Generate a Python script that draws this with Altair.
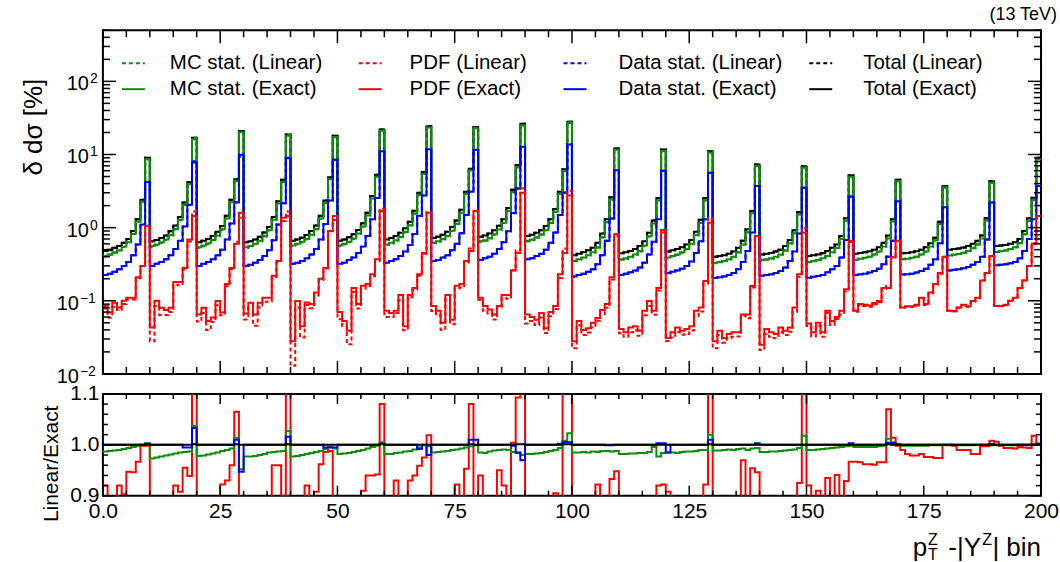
import altair as alt
import pandas as pd

FONT = "Liberation Sans"
GREEN = "#0b8f0b"
RED = "#ff0000"
BLUE = "#0000ff"
BLACK = "#000000"

# ---------------- data: 200 bins (20 |Y| groups x 10 pT bins) ----------------
total_exact = [
    0.48, 0.50, 0.53, 0.56, 0.62, 0.70, 0.90, 1.30, 2.40, 9.0,
    0.65, 0.68, 0.72, 0.78, 0.89, 1.07, 1.40, 2.20, 4.2, 16.9,
    0.63, 0.66, 0.70, 0.77, 0.88, 1.05, 1.45, 2.40, 4.6, 20.9,
    0.63, 0.65, 0.69, 0.75, 0.86, 1.02, 1.40, 2.30, 4.5, 18.8,
    0.66, 0.69, 0.73, 0.79, 0.90, 1.07, 1.45, 2.35, 4.9, 18.0,
    0.66, 0.69, 0.74, 0.81, 0.93, 1.15, 1.60, 2.70, 5.3, 22.0,
    0.69, 0.72, 0.77, 0.85, 0.98, 1.20, 1.70, 3.00, 5.75, 24.4,
    0.72, 0.75, 0.80, 0.88, 1.02, 1.25, 1.75, 3.10, 6.4, 23.7,
    0.75, 0.78, 0.83, 0.92, 1.06, 1.30, 1.85, 3.30, 7.2, 26.3,
    0.77, 0.80, 0.85, 0.92, 1.05, 1.30, 1.80, 3.10, 6.3, 28.0,
    0.42, 0.44, 0.46, 0.49, 0.53, 0.62, 0.83, 1.30, 2.6, 12.1,
    0.445, 0.46, 0.48, 0.51, 0.56, 0.65, 0.85, 1.25, 2.55, 11.7,
    0.47, 0.49, 0.51, 0.54, 0.59, 0.68, 0.88, 1.28, 2.55, 11.1,
    0.40, 0.41, 0.42, 0.44, 0.47, 0.53, 0.66, 0.95, 1.69, 7.3,
    0.43, 0.44, 0.45, 0.47, 0.50, 0.56, 0.68, 0.92, 1.63, 6.9,
    0.41, 0.42, 0.43, 0.445, 0.48, 0.53, 0.59, 0.77, 1.34, 5.2,
    0.44, 0.45, 0.46, 0.475, 0.50, 0.54, 0.62, 0.78, 1.30, 4.5,
    0.445, 0.45, 0.46, 0.475, 0.50, 0.54, 0.61, 0.73, 1.20, 3.7,
    0.50, 0.51, 0.52, 0.535, 0.56, 0.60, 0.66, 0.78, 1.34, 4.3,
    0.56, 0.57, 0.58, 0.60, 0.63, 0.70, 0.90, 1.34, 2.56, 9.0,
]
mc_exact = [
    0.41, 0.43, 0.46, 0.49, 0.55, 0.63, 0.82, 1.21, 2.26, 8.6,
    0.56, 0.59, 0.63, 0.69, 0.79, 0.96, 1.28, 2.05, 3.95, 16.2,
    0.54, 0.57, 0.61, 0.68, 0.78, 0.95, 1.33, 2.23, 4.32, 20.1,
    0.54, 0.56, 0.60, 0.66, 0.77, 0.92, 1.28, 2.14, 4.23, 18.0,
    0.57, 0.60, 0.64, 0.70, 0.80, 0.96, 1.33, 2.19, 4.61, 17.3,
    0.57, 0.60, 0.64, 0.71, 0.83, 1.04, 1.46, 2.51, 4.98, 21.1,
    0.59, 0.62, 0.67, 0.75, 0.87, 1.08, 1.56, 2.79, 5.41, 23.4,
    0.62, 0.65, 0.70, 0.77, 0.91, 1.13, 1.60, 2.88, 6.02, 22.8,
    0.65, 0.67, 0.72, 0.81, 0.94, 1.17, 1.69, 3.07, 6.77, 25.2,
    0.66, 0.69, 0.74, 0.81, 0.93, 1.17, 1.65, 2.88, 5.92, 26.9,
    0.35, 0.37, 0.39, 0.42, 0.46, 0.54, 0.74, 1.19, 2.42, 11.6,
    0.37, 0.38, 0.40, 0.43, 0.48, 0.57, 0.76, 1.14, 2.37, 11.2,
    0.39, 0.41, 0.43, 0.46, 0.51, 0.60, 0.79, 1.17, 2.37, 10.6,
    0.33, 0.34, 0.35, 0.37, 0.40, 0.46, 0.59, 0.87, 1.57, 7.0,
    0.36, 0.37, 0.38, 0.40, 0.43, 0.49, 0.61, 0.84, 1.52, 6.6,
    0.34, 0.35, 0.36, 0.38, 0.41, 0.46, 0.53, 0.70, 1.25, 4.97,
    0.365, 0.376, 0.386, 0.40, 0.43, 0.47, 0.55, 0.71, 1.21, 4.3,
    0.37, 0.376, 0.386, 0.40, 0.43, 0.47, 0.55, 0.67, 1.12, 3.53,
    0.415, 0.426, 0.437, 0.455, 0.48, 0.525, 0.59, 0.71, 1.25, 4.1,
    0.465, 0.476, 0.487, 0.51, 0.54, 0.61, 0.81, 1.23, 2.38, 8.6,
]
data_exact = [
    0.225, 0.235, 0.25, 0.27, 0.30, 0.34, 0.42, 0.59, 1.10, 4.2,
    0.30, 0.32, 0.34, 0.37, 0.42, 0.51, 0.66, 1.04, 2.05, 7.8,
    0.30, 0.32, 0.34, 0.37, 0.42, 0.50, 0.69, 1.14, 2.2, 9.9,
    0.30, 0.31, 0.33, 0.36, 0.41, 0.49, 0.67, 1.10, 2.15, 8.9,
    0.32, 0.33, 0.35, 0.38, 0.43, 0.51, 0.69, 1.12, 2.35, 8.5,
    0.32, 0.33, 0.36, 0.39, 0.45, 0.55, 0.77, 1.30, 2.55, 11.1,
    0.33, 0.35, 0.37, 0.41, 0.47, 0.58, 0.82, 1.45, 2.75, 11.8,
    0.35, 0.36, 0.39, 0.42, 0.49, 0.60, 0.84, 1.49, 3.1, 11.5,
    0.36, 0.38, 0.40, 0.44, 0.51, 0.63, 0.89, 1.58, 3.45, 12.8,
    0.37, 0.38, 0.41, 0.44, 0.50, 0.62, 0.86, 1.49, 3.0, 13.7,
    0.214, 0.225, 0.235, 0.25, 0.27, 0.315, 0.42, 0.66, 1.33, 6.1,
    0.225, 0.235, 0.245, 0.26, 0.285, 0.33, 0.43, 0.64, 1.30, 6.0,
    0.24, 0.25, 0.26, 0.275, 0.30, 0.345, 0.45, 0.65, 1.30, 5.6,
    0.205, 0.21, 0.215, 0.225, 0.24, 0.27, 0.34, 0.48, 0.86, 3.7,
    0.22, 0.225, 0.23, 0.24, 0.255, 0.285, 0.35, 0.47, 0.83, 3.5,
    0.207, 0.213, 0.218, 0.226, 0.245, 0.27, 0.30, 0.39, 0.68, 2.65,
    0.225, 0.23, 0.235, 0.243, 0.255, 0.275, 0.315, 0.40, 0.66, 2.3,
    0.228, 0.23, 0.235, 0.243, 0.255, 0.275, 0.31, 0.37, 0.61, 1.9,
    0.26, 0.265, 0.27, 0.278, 0.29, 0.31, 0.34, 0.40, 0.69, 2.2,
    0.305, 0.31, 0.315, 0.325, 0.34, 0.38, 0.48, 0.70, 1.30, 3.7,
]
pdf_exact = [
    0.085, 0.069, 0.094, 0.081, 0.10, 0.11, 0.11, 0.21, 0.30, 1.05,
    0.043, 0.10, 0.08, 0.075, 0.08, 0.18, 0.18, 0.28, 0.69, 1.44,
    0.065, 0.08, 0.053, 0.059, 0.099, 0.069, 0.17, 0.28, 0.60, 1.6,
    0.067, 0.094, 0.065, 0.094, 0.11, 0.11, 0.22, 0.35, 1.37, 1.44,
    0.028, 0.099, 0.045, 0.095, 0.09, 0.13, 0.20, 0.28, 0.90, 1.44,
    0.07, 0.053, 0.039, 0.15, 0.09, 0.16, 0.17, 0.23, 0.37, 1.69,
    0.073, 0.068, 0.073, 0.12, 0.045, 0.12, 0.15, 0.23, 0.45, 1.6,
    0.085, 0.073, 0.05, 0.12, 0.055, 0.16, 0.17, 0.35, 0.48, 1.69,
    0.11, 0.085, 0.076, 0.065, 0.085, 0.12, 0.12, 0.26, 0.45, 3.0,
    0.065, 0.06, 0.055, 0.068, 0.042, 0.07, 0.085, 0.23, 0.45, 2.75,
    0.028, 0.053, 0.04, 0.042, 0.05, 0.058, 0.075, 0.09, 0.21, 0.81,
    0.041, 0.037, 0.043, 0.045, 0.039, 0.073, 0.099, 0.073, 0.15, 0.93,
    0.031, 0.037, 0.043, 0.039, 0.041, 0.045, 0.073, 0.081, 0.186, 1.17,
    0.028, 0.039, 0.031, 0.035, 0.037, 0.037, 0.065, 0.065, 0.159, 0.77,
    0.025, 0.041, 0.037, 0.035, 0.043, 0.039, 0.043, 0.081, 0.23, 0.85,
    0.049, 0.037, 0.05, 0.037, 0.073, 0.053, 0.06, 0.073, 0.144, 0.66,
    0.073, 0.09, 0.088, 0.086, 0.093, 0.099, 0.15, 0.15, 0.39, 0.66,
    0.081, 0.084, 0.084, 0.088, 0.11, 0.09, 0.13, 0.17, 0.24, 0.40,
    0.073, 0.072, 0.081, 0.088, 0.084, 0.099, 0.11, 0.19, 0.24, 0.41,
    0.085, 0.085, 0.088, 0.10, 0.11, 0.15, 0.19, 0.30, 0.60, 1.44,
]
# Linear / Exact ratios (lower panel)
total_ratio = [
    1.000, 1.000, 1.000, 1.000, 1.000, 1.000, 1.000, 1.000, 1.000, 1.001,
    1.000, 1.000, 1.000, 1.000, 1.000, 1.000, 1.000, 1.000, 1.000, 1.001,
    1.000, 1.000, 1.000, 1.000, 1.000, 1.000, 1.000, 1.000, 1.001, 1.000,
    1.000, 1.000, 1.000, 1.000, 1.000, 1.000, 1.000, 1.000, 1.000, 1.001,
    1.000, 1.000, 1.000, 1.000, 1.000, 1.000, 1.000, 1.000, 1.000, 1.000,
    1.000, 1.000, 1.000, 1.000, 1.000, 1.000, 1.000, 1.000, 1.000, 1.001,
    1.000, 1.000, 1.000, 1.000, 1.000, 1.000, 1.000, 1.000, 1.000, 1.000,
    1.000, 1.000, 1.000, 1.000, 1.000, 1.000, 1.000, 1.000, 1.001, 1.000,
    1.000, 1.000, 1.000, 1.000, 1.000, 1.000, 1.000, 1.000, 1.001, 1.001,
    1.000, 1.000, 1.000, 1.000, 1.000, 1.000, 1.000, 1.000, 1.001, 1.001,
    1.000, 1.000, 1.000, 1.000, 1.000, 1.000, 1.000, 1.000, 1.000, 1.000,
    1.000, 1.000, 1.000, 1.000, 1.000, 1.000, 1.000, 1.000, 1.000, 1.000,
    1.000, 1.000, 1.000, 1.000, 1.000, 1.000, 1.000, 1.000, 1.000, 1.001,
    1.000, 1.000, 1.000, 1.000, 1.000, 1.000, 1.000, 1.000, 1.000, 1.000,
    1.000, 1.000, 1.000, 1.000, 1.000, 1.000, 1.000, 1.000, 1.000, 1.000,
    1.000, 1.000, 1.000, 1.000, 1.000, 1.000, 1.000, 1.000, 1.000, 1.000,
    1.000, 1.000, 1.000, 1.000, 1.000, 1.000, 1.000, 1.001, 1.000, 1.000,
    1.000, 1.000, 1.000, 1.000, 1.000, 1.000, 1.000, 1.000, 1.000, 1.000,
    1.000, 1.000, 1.000, 1.000, 1.000, 1.000, 1.000, 1.000, 1.000, 1.000,
    1.000, 1.000, 1.000, 1.000, 1.000, 1.000, 1.000, 1.000, 1.000, 1.000,
]
mc_ratio = [
    0.987, 0.988, 0.989, 0.990, 0.992, 0.994, 0.996, 0.998, 1.000, 1.003,
    0.973, 0.975, 0.977, 0.979, 0.981, 0.983, 0.985, 0.986, 0.987, 1.037,
    0.978, 0.979, 0.981, 0.983, 0.985, 0.988, 0.990, 0.993, 1.014, 0.952,
    0.977, 0.977, 0.978, 0.980, 0.982, 0.985, 0.986, 0.987, 0.988, 1.027,
    0.977, 0.978, 0.980, 0.982, 0.984, 0.986, 0.988, 0.992, 0.996, 0.993,
    0.982, 0.983, 0.984, 0.986, 0.988, 0.990, 0.993, 0.996, 0.998, 1.005,
    0.982, 0.982, 0.984, 0.985, 0.987, 0.988, 0.991, 0.995, 0.999, 0.997,
    0.985, 0.986, 0.987, 0.988, 0.990, 0.991, 0.993, 0.995, 0.997, 0.999,
    0.985, 0.984, 0.987, 0.989, 0.990, 0.991, 0.990, 0.986, 0.984, 0.980,
    0.982, 0.982, 0.983, 0.984, 0.986, 0.988, 0.990, 0.994, 1.008, 1.023,
    0.985, 0.985, 0.986, 0.985, 0.987, 0.986, 0.988, 0.988, 0.987, 0.988,
    0.982, 0.982, 0.983, 0.983, 0.984, 0.984, 0.986, 0.996, 0.977, 0.984,
    0.985, 0.985, 0.984, 0.986, 0.987, 0.987, 0.988, 0.990, 0.990, 1.020,
    0.989, 0.989, 0.990, 0.991, 0.990, 0.992, 0.993, 0.990, 0.993, 0.994,
    0.986, 0.986, 0.987, 0.987, 0.988, 0.989, 0.990, 0.991, 0.994, 1.018,
    0.990, 0.990, 0.991, 0.992, 0.993, 0.994, 0.995, 0.996, 0.997, 0.998,
    0.996, 0.996, 0.996, 0.996, 0.996, 0.997, 0.998, 1.012, 1.005, 1.002,
    0.998, 0.998, 0.998, 0.998, 0.998, 0.998, 0.999, 0.999, 0.999, 0.999,
    0.999, 0.999, 0.999, 0.999, 0.999, 0.999, 1.000, 1.000, 1.000, 1.000,
    0.999, 0.999, 0.999, 0.999, 0.999, 1.000, 1.000, 1.000, 1.001, 1.002,
]
data_ratio = [
    1.000, 1.000, 1.000, 1.000, 1.000, 1.000, 1.000, 1.000, 1.000, 1.002,
    1.000, 1.000, 1.000, 1.000, 1.000, 1.000, 1.000, 0.995, 0.995, 1.033,
    1.000, 1.000, 1.000, 1.000, 1.000, 1.000, 1.000, 1.000, 1.010, 0.947,
    1.000, 1.000, 1.000, 1.000, 1.000, 1.000, 1.000, 1.000, 1.000, 1.016,
    1.000, 1.000, 1.000, 1.000, 1.000, 1.000, 1.000, 0.995, 0.995, 0.995,
    1.000, 1.000, 1.000, 1.000, 1.000, 1.000, 1.000, 1.000, 1.000, 1.002,
    1.000, 1.000, 1.000, 1.000, 1.000, 1.000, 1.000, 0.992, 1.000, 0.980,
    1.000, 1.000, 1.000, 1.000, 1.000, 1.000, 1.000, 1.000, 1.010, 1.010,
    1.000, 1.000, 1.000, 1.000, 1.000, 1.000, 1.000, 0.998, 0.985, 0.970,
    1.000, 1.000, 1.000, 1.000, 1.000, 1.000, 1.000, 1.002, 1.005, 1.005,
    1.000, 1.000, 1.000, 1.000, 1.000, 1.000, 1.000, 0.999, 0.999, 1.000,
    1.000, 1.000, 1.000, 1.000, 1.000, 1.000, 1.000, 1.000, 1.003, 1.003,
    0.985, 1.000, 1.000, 1.000, 1.000, 1.000, 1.000, 1.000, 1.000, 1.010,
    1.000, 1.000, 1.000, 1.000, 1.000, 1.000, 1.000, 1.000, 1.000, 1.003,
    1.000, 1.000, 1.000, 1.000, 1.000, 1.000, 1.000, 1.000, 1.000, 1.000,
    1.000, 1.000, 1.000, 1.000, 1.000, 1.000, 1.000, 1.000, 1.000, 1.003,
    1.000, 1.000, 1.000, 1.000, 1.000, 1.000, 1.000, 1.004, 1.003, 1.000,
    1.000, 1.000, 1.000, 1.000, 1.000, 1.000, 1.000, 1.000, 1.000, 1.000,
    1.000, 1.000, 1.000, 1.000, 1.000, 1.000, 1.000, 1.000, 1.000, 1.002,
    1.000, 1.000, 1.000, 1.000, 1.000, 1.000, 1.000, 1.000, 1.000, 1.002,
]
pdf_ratio = [
    0.920, 0.850, 0.880, 0.920, 0.903, 0.947, 0.946, 0.967, 0.998, 0.998,
    0.650, 0.850, 0.800, 0.850, 0.880, 0.920, 0.908, 0.955, 0.939, 1.150,
    0.800, 0.850, 0.750, 0.870, 0.880, 0.922, 0.930, 0.960, 1.065, 0.850,
    0.830, 0.880, 0.700, 0.860, 0.880, 0.890, 0.960, 0.960, 0.900, 1.150,
    0.460, 0.820, 0.700, 0.920, 0.880, 0.908, 0.962, 0.986, 0.988, 0.880,
    0.800, 0.850, 0.650, 0.880, 0.870, 0.910, 0.940, 0.940, 0.942, 1.080,
    0.820, 0.880, 0.930, 0.850, 0.880, 0.930, 0.940, 0.959, 0.975, 1.019,
    0.850, 0.860, 0.800, 0.880, 0.870, 0.922, 0.890, 0.953, 1.080, 0.850,
    0.940, 0.860, 0.880, 0.850, 0.950, 0.920, 0.890, 1.004, 1.093, 1.150,
    0.750, 0.880, 0.850, 0.870, 0.860, 0.880, 0.905, 0.890, 1.150, 1.150,
    0.800, 0.870, 0.850, 0.880, 0.860, 0.922, 0.870, 0.890, 0.933, 0.948,
    0.880, 0.870, 0.860, 0.880, 0.850, 0.870, 0.860, 0.880, 0.920, 0.922,
    0.908, 0.850, 0.870, 0.880, 0.860, 0.870, 0.850, 0.880, 0.922, 1.150,
    0.800, 0.870, 0.860, 0.880, 0.870, 0.880, 0.970, 0.890, 0.954, 0.946,
    0.850, 0.860, 0.870, 0.880, 0.860, 0.870, 0.880, 0.870, 0.925, 1.150,
    0.920, 0.880, 0.910, 0.870, 0.935, 0.880, 0.941, 0.890, 0.929, 0.967,
    0.967, 0.966, 0.962, 0.962, 0.961, 0.966, 0.966, 1.070, 1.014, 0.998,
    0.990, 0.982, 0.979, 0.979, 0.982, 0.976, 0.976, 0.974, 0.974, 1.000,
    1.000, 0.998, 0.990, 0.990, 0.990, 0.982, 0.982, 0.997, 0.997, 1.008,
    1.006, 0.998, 0.994, 0.994, 0.993, 0.996, 0.995, 0.994, 1.018, 1.001,
]

legend_labels = [
    "MC stat. (Linear)", "PDF (Linear)", "Data stat. (Linear)", "Total (Linear)",
    "MC stat. (Exact)", "PDF (Exact)", "Data stat. (Exact)", "Total (Exact)",
]

# ---------------- geometry ----------------
W, HT, HB = 939, 344, 102
DASH = [4, 3]
xscale = alt.Scale(domain=[0, 200], nice=False, zero=False)
ytop = alt.Scale(type="log", domain=[0.01, 500], nice=False)
ybot = alt.Scale(domain=[0.9, 1.1], nice=False, zero=False)
ONE = pd.DataFrame({"k": [0]})


def step_frame(vals):
    xs = list(range(len(vals))) + [len(vals)]
    ys = list(vals) + [vals[-1]]
    return pd.DataFrame({"bin": xs, "val": ys})


def linear_of(exact, ratio):
    return [e * r for e, r in zip(exact, ratio)]


xaxis_b = alt.Axis(values=list(range(0, 201, 25)),
                   labelExpr="datum.value == 0 ? '0.0' : datum.label",
                   labelFontSize=21, labelFont=FONT, labelColor="black",
                   ticks=False, tickSize=0, domain=False, grid=False, title=None,
                   labelPadding=5, labelFlush=False)
yaxis_b = alt.Axis(values=[0.9, 1.0, 1.1], format=".1f",
                   labelFontSize=21, labelFont=FONT, labelColor="black",
                   ticks=False, tickSize=0, domain=False, grid=False, title=None,
                   labelPadding=4, labelFlush=False)


def line(vals, color, dashed, yscale, xaxis=None, yaxis=None):
    kw = dict(interpolate="step-after", clip=True, strokeWidth=2, color=color)
    if dashed:
        kw["strokeDash"] = DASH
    return alt.Chart(step_frame(vals)).mark_line(**kw).encode(
        x=alt.X("bin:Q", scale=xscale, axis=xaxis),
        y=alt.Y("val:Q", scale=yscale, axis=yaxis),
    )


def txt(text, x, y, size, align="left", baseline="alphabetic", angle=None):
    kw = dict(text=text, align=align, baseline=baseline, fontSize=size,
              font=FONT, color="black")
    if angle is not None:
        kw["angle"] = angle
    return alt.Chart(ONE).mark_text(**kw).encode(x=alt.value(x), y=alt.value(y))


def xticks(vals, y0, y1, xaxis=None):
    return alt.Chart(pd.DataFrame({"t": vals})).mark_rule(color="black", strokeWidth=1.5).encode(
        x=alt.X("t:Q", scale=xscale, axis=xaxis), y=alt.value(y0), y2=alt.value(y1))


def yticks(vals, yscale, x0, x1, yaxis=None):
    return alt.Chart(pd.DataFrame({"t": vals})).mark_rule(color="black", strokeWidth=1.5).encode(
        y=alt.Y("t:Q", scale=yscale, axis=yaxis), x=alt.value(x0), x2=alt.value(x1))


x_major = list(range(0, 201, 25))
x_minor = [v for v in range(0, 201, 5) if v % 25 != 0]

# ---------------- top panel ----------------
series = [
    (total_exact, total_ratio, BLACK),
    (mc_exact, mc_ratio, GREEN),
    (data_exact, data_ratio, BLUE),
    (pdf_exact, pdf_ratio, RED),
]
top_layers = []
for exact, ratio, col in series:
    top_layers.append(line(linear_of(exact, ratio), col, True, ytop))
    top_layers.append(line(exact, col, False, ytop))

ymaj_top = [0.01, 0.1, 1, 10, 100]
ymin_top = [k * 10.0 ** e for e in range(-2, 3) for k in range(2, 10) if k * 10.0 ** e <= 500]
top_layers += [
    xticks(x_major, HT, HT - 13), xticks(x_minor, HT, HT - 7),
    xticks(x_major, 0, 13), xticks(x_minor, 0, 7),
    yticks(ymaj_top, ytop, 0, 13), yticks(ymin_top, ytop, 0, 7),
    yticks(ymaj_top, ytop, W, W - 13), yticks(ymin_top, ytop, W, W - 7),
]

# log-axis labels 10^n
neg = pd.DataFrame({"t": [0.01, 0.1], "e": ["\u22122", "\u22121"]})
pos = pd.DataFrame({"t": [1, 10, 100], "e": ["0", "1", "2"]})
for df, xr in [(neg, -24), (pos, -14)]:
    top_layers.append(alt.Chart(df).mark_text(text="10", align="right", baseline="alphabetic",
                                              dy=9, fontSize=20, font=FONT, color="black").encode(
        y=alt.Y("t:Q", scale=ytop, axis=None), x=alt.value(xr)))
    top_layers.append(alt.Chart(df).mark_text(align="left", baseline="alphabetic",
                                              dy=2, fontSize=14, font=FONT, color="black").encode(
        y=alt.Y("t:Q", scale=ytop, axis=None), x=alt.value(xr + 1), text="e:N"))

# legend (4 columns x 2 rows)
leg_colors = [GREEN, RED, BLUE, BLACK]
sym_x = [19, 256, 461, 707]
txt_x = [67, 307, 516, 761]
row_y = [33, 59]
for i, lab in enumerate(legend_labels):
    c, r = i % 4, i // 4
    kw = dict(color=leg_colors[c], strokeWidth=2)
    if r == 0:
        kw["strokeDash"] = DASH
    top_layers.append(alt.Chart(ONE).mark_rule(**kw).encode(
        x=alt.value(sym_x[c]), x2=alt.value(sym_x[c] + 23), y=alt.value(row_y[r])))
    top_layers.append(txt(lab, txt_x[c], row_y[r], 20.5, baseline="middle"))

top_layers.append(txt("(13 TeV)", 955, -15, 18, align="right", baseline="middle"))
top_layers.append(txt("\u03b4 d\u03c3 [%]", -69, 97, 26, align="center", baseline="middle", angle=270))

top = alt.layer(*top_layers).properties(width=W, height=HT)

# ---------------- bottom (ratio) panel ----------------
bot_layers = [
    line(pdf_ratio, RED, False, ybot, xaxis_b, yaxis_b),
    line(mc_ratio, GREEN, False, ybot, xaxis_b, yaxis_b),
    line(data_ratio, BLUE, False, ybot, xaxis_b, yaxis_b),
    line(total_ratio, BLACK, False, ybot, xaxis_b, yaxis_b),
]
ymaj_b = [0.9, 1.0, 1.1]
ymin_b = [round(0.9 + 0.02 * i, 2) for i in range(1, 10) if i != 5]
bot_layers += [
    xticks(x_major, HB, HB - 10, xaxis_b), xticks(x_minor, HB, HB - 5, xaxis_b),
    xticks(x_major, 0, 10, xaxis_b), xticks(x_minor, 0, 5, xaxis_b),
    yticks(ymaj_b, ybot, 0, 10, yaxis_b), yticks(ymin_b, ybot, 0, 5, yaxis_b),
    yticks(ymaj_b, ybot, W, W - 10, yaxis_b), yticks(ymin_b, ybot, W, W - 5, yaxis_b),
]
bot_layers.append(txt("Linear/Exact", -51, 70, 21, align="center", baseline="middle", angle=270))
# x-axis title  p_T^Z -|Y^Z| bin
bot_layers += [
    txt("p", 825, 162, 26, align="right"),
    txt("Z", 826, 151, 16),
    txt("T", 826, 166, 16),
    txt(" -|Y", 879, 162, 26, align="right"),
    txt("Z", 890, 151, 16, align="right"),
    txt("| bin", 939, 162, 26, align="right"),
]
bottom = alt.layer(*bot_layers).properties(width=W, height=HB)

chart = alt.vconcat(top, bottom, spacing=20, bounds="flush").properties(
    padding={"left": 20, "top": 5, "right": 0, "bottom": 0},
    background="white",
).configure_view(stroke="black", strokeWidth=2)

chart.save("out.html", embed_options={"renderer": "svg", "actions": False})
